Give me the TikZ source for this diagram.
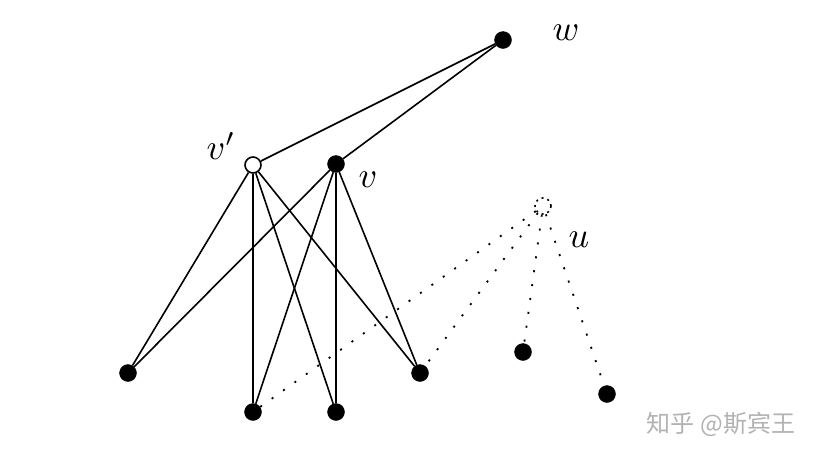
\documentclass[tikz,border=0pt]{standalone}
\usepackage{graphicx}
\usepackage{fontspec}
\newfontfamily\cjk{Noto Sans CJK SC}
\newcommand{\biglab}[1]{\scalebox{3.6}{$#1$}}
\begin{document}
\begin{tikzpicture}[x=1pt,y=-1pt,
  fv/.style={circle,fill=black,draw=black,inner sep=0pt,minimum size=17pt},
  ov/.style={circle,fill=white,draw=black,line width=1.6pt,inner sep=0pt,minimum size=16pt},
  dv/.style={circle,draw=black,line width=1.6pt,dash pattern=on 2pt off 4pt,inner sep=0pt,minimum size=16pt},
  edge/.style={line width=1.6pt},
  dedge/.style={line width=1.8pt,dash pattern=on 2pt off 12pt},
  lab/.style={inner sep=0pt}]
\useasboundingbox (0,0) rectangle (818,456);
\node[fv] (w) at (503,40) {};
\node[ov] (vp) at (253,165) {};
\node[fv] (v) at (336,164) {};
\node[dv] (u) at (543,206) {};
\node[fv] (a1) at (128,373) {};
\node[fv] (a2) at (253,412) {};
\node[fv] (a3) at (336,412) {};
\node[fv] (a4) at (420,373) {};
\node[fv] (b1) at (523,352) {};
\node[fv] (b2) at (607,394) {};
\node[lab] (lw) at (566,33) {\biglab{w}};
\node[lab] (lvp) at (221,146) {\biglab{v'}};
\node[lab] (lv) at (368,180) {\biglab{v}};
\node[lab] (lu) at (579,240) {\biglab{u}};
\draw[edge] (w) -- (vp);
\draw[edge] (w) -- (v);
\foreach \t in {a1,a2,a3,a4}{
  \draw[edge] (vp) -- (\t);
  \draw[edge] (v) -- (\t);
}
\foreach \t in {a2,a4,b1,b2}{
  \draw[dedge] (u) -- (\t);
}
\node[font=\cjk\fontsize{24}{26}\selectfont, text=black!30] (wm) at (721,424) {知乎 @斯宾王};
\end{tikzpicture}
\end{document}
